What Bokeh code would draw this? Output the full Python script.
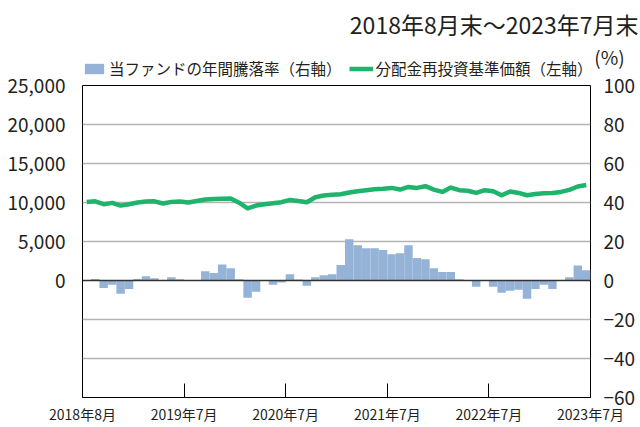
from bokeh.plotting import figure
from bokeh.layouts import column
from bokeh.models import (Range1d, LinearAxis, FixedTicker, NumeralTickFormatter,
                          Grid, Span, Legend, LegendItem, Label, ColumnDataSource)
from bokeh.embed import file_html
from bokeh.resources import INLINE

# ---- data ----
tick_positions = [0, 12, 24, 36, 48, 60]
tick_labels = ["2018年8月", "2019年7月", "2020年7月", "2021年7月", "2022年7月", "2023年7月"]

annual_return = [0, 0.8, -3.8, -2.2, -6.8, -4.3, 0.8, 2.2, 1.2, 0.3,
                 1.7, 0.7, 0, 0, 4.8, 3.8, 8.2, 6.3, 0.7, -8.9,
                 -5.8, -0.3, -2.2, -1.0, 3.2, 0.5, -2.7, 1.7, 2.7, 3.2,
                 7.9, 21.2, 18.1, 16.6, 16.6, 15.6, 13.5, 14.0, 18.1, 11.5,
                 10.9, 6.3, 4.3, 4.3, 0.7, 0, -3.2, 0, -3.2, -6.3,
                 -5.3, -4.8, -9.4, -4.3, -2.2, -4.3, 0, 1.7, 7.7, 5.3]

nav = [10050, 10160, 9780, 9950, 9600, 9780, 10000, 10130, 10150, 9870,
       10080, 10130, 10000, 10200, 10380, 10450, 10470, 10510, 9980, 9250,
       9610, 9780, 9910, 10040, 10330, 10200, 10040, 10680, 10890, 10980,
       11060, 11280, 11450, 11580, 11700, 11770, 11870, 11660, 12000, 11870,
       12090, 11660, 11360, 11920, 11580, 11500, 11230, 11580, 11450, 10930,
       11400, 11230, 10930, 11100, 11190, 11230, 11360, 11620, 12050, 12250]

left_ticks = [0, 5000, 10000, 15000, 20000, 25000]
right_ticks = [-60, -40, -20, 0, 20, 40, 60, 80, 100]
grid_ticks = [-40, -20, 20, 40, 60, 80]

title_text = "2018年8月末～2023年7月末"
pct_text = "(%)"
bar_label = "当ファンドの年間騰落率（右軸）"
line_label = "分配金再投資基準価額（左軸）"

FONT = "Noto Sans CJK JP"
TXT = "#231f20"
BLUE = "#95b3d7"
GREEN = "#1fb36b"

W = 640
TOP_H = 80
OVERLAP = 23
MAIN_H = 427 - TOP_H + OVERLAP


def no_align(fig):
    if "frame_align" in fig.properties():
        fig.frame_align = False


# ---- header figure (title, legend, unit) ----
top = figure(width=W, height=TOP_H, output_backend="svg", toolbar_location=None,
             x_range=Range1d(0, W), y_range=Range1d(TOP_H, 0),
             x_axis_location=None, y_axis_location=None, min_border=0)
top.outline_line_color = None
top.xgrid.visible = False
top.ygrid.visible = False
no_align(top)

# legend-only renderers, placed outside the visible range
dummy_bar = top.vbar(x=[-100], top=[-100], bottom=[-90], width=1, fill_color=BLUE, line_color=None)
dummy_line = top.line(x=[-100, -90], y=[-100, -100], line_color=GREEN, line_width=4.5)

legend = Legend(items=[LegendItem(label=bar_label, renderers=[dummy_bar]),
                       LegendItem(label=line_label, renderers=[dummy_line])],
                orientation="horizontal", location=(82, 1),
                glyph_width=24, glyph_height=13, label_standoff=3, spacing=7,
                padding=0, margin=0, border_line_color=None, background_fill_alpha=0,
                label_text_font=FONT, label_text_font_size="15.5px", label_text_color=TXT)
top.add_layout(legend, "center")

top.add_layout(Label(x=638, y=23, text=title_text, text_align="right", text_baseline="middle",
                     text_font=FONT, text_font_size="23px", text_color=TXT))
top.add_layout(Label(x=609, y=56, text=pct_text, text_align="center", text_baseline="middle",
                     text_font=FONT, text_font_size="19px", text_color=TXT))

# ---- main chart ----
x = [i + 0.5 for i in range(len(nav))]
src = ColumnDataSource(dict(x=x, ret=annual_return, nav=nav))

p = figure(width=W, height=MAIN_H, output_backend="svg", toolbar_location=None,
           x_range=Range1d(0, 60), y_range=Range1d(-15000, 25000),
           min_border_left=82, min_border_right=50, min_border_top=28, min_border_bottom=30)
p.extra_y_ranges = {"pct": Range1d(-60, 100)}
p.margin = (-OVERLAP, 0, 0, 0)
p.border_fill_alpha = 0
no_align(p)

p.outline_line_color = "black"
p.outline_line_width = 1
p.xgrid.visible = False
p.ygrid.visible = False

g = Grid(dimension=1, ticker=FixedTicker(ticks=grid_ticks), y_range_name="pct",
         grid_line_color="#b4b4b4", grid_line_width=1.5)
p.add_layout(g)

bars = p.vbar(x="x", top="ret", width=1, bottom=0, source=src, y_range_name="pct",
              fill_color=BLUE, line_color=None)
zero = Span(location=0, dimension="width", y_range_name="pct", line_color="#333333", line_width=1.5)
p.add_layout(zero)
line = p.line(x="x", y="nav", source=src, line_color=GREEN, line_width=4.5, line_join="round")

# left axis
ax = p.yaxis[0]
ax.ticker = FixedTicker(ticks=left_ticks)
ax.formatter = NumeralTickFormatter(format="0,0")
ax.axis_line_color = None
ax.major_tick_line_color = None
ax.minor_tick_line_color = None
ax.major_label_text_font = FONT
ax.major_label_text_font_size = "19px"
ax.major_label_text_color = TXT
ax.major_label_standoff = 11

# right axis
rax = LinearAxis(y_range_name="pct", ticker=FixedTicker(ticks=right_ticks))
rax.axis_line_color = None
rax.major_tick_line_color = None
rax.minor_tick_line_color = None
rax.major_label_text_font = FONT
rax.major_label_text_font_size = "19px"
rax.major_label_text_color = TXT
rax.major_label_standoff = 7
p.add_layout(rax, "right")

# x axis
xa = p.xaxis[0]
xa.ticker = FixedTicker(ticks=tick_positions)
xa.major_label_overrides = {t: l for t, l in zip(tick_positions, tick_labels)}
xa.axis_line_color = "black"
xa.major_tick_in = 14
xa.major_tick_out = 0
xa.major_tick_line_color = "black"
xa.minor_tick_line_color = None
xa.major_label_text_font = FONT
xa.major_label_text_font_size = "14px"
xa.major_label_text_color = TXT
xa.major_label_standoff = 6

layout = column(top, p, spacing=0)
open("out.html", "w").write(file_html(layout, INLINE))
